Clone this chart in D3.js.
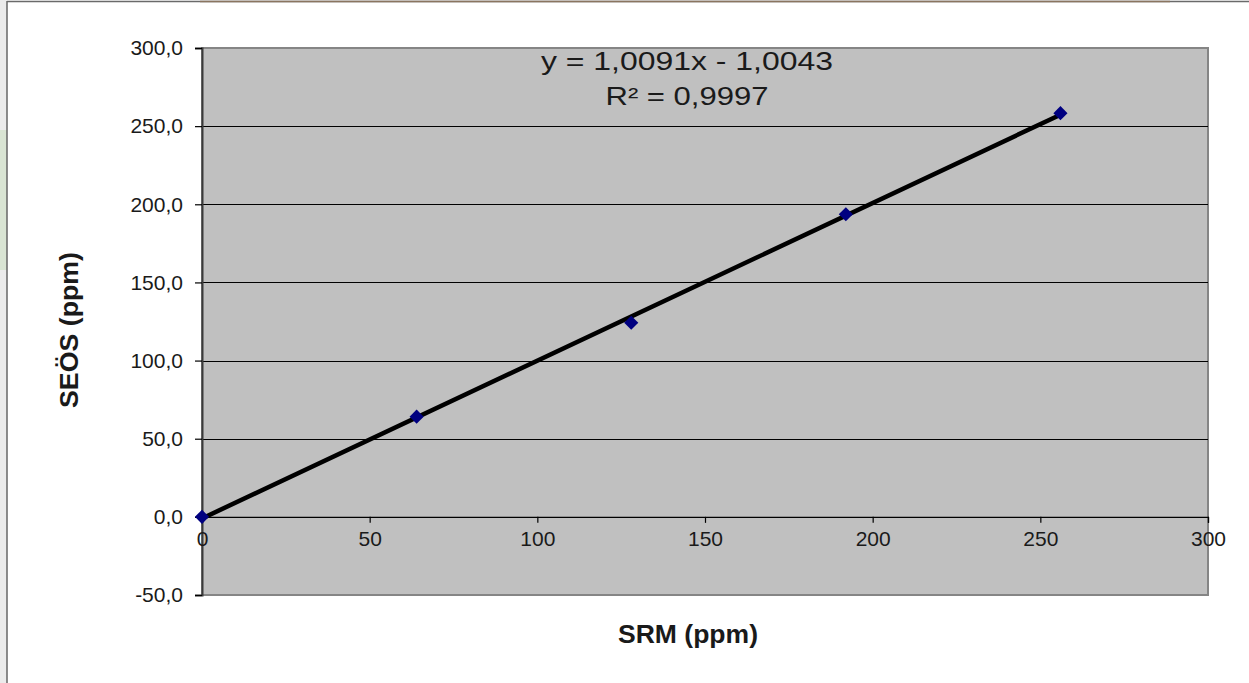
<!DOCTYPE html>
<html>
<head>
<meta charset="utf-8">
<script src="https://cdn.jsdelivr.net/npm/d3@7"></script>
<style>
  body { margin: 0; background: #fff; }
  text { font-family: "Liberation Sans", Arial, sans-serif; fill: #1a1a1a; }
</style>
</head>
<body>
<script>
    // data
    var srm = [0, 64, 128, 192, 256];
    var seos = [0, 64.1, 124.2, 193.6, 258.3];
    var xTicks = [0, 50, 100, 150, 200, 250, 300];
    var yTicks = [-50, 0, 50, 100, 150, 200, 250, 300];
    var trend = [1.0091, -1.0043];   // slope, intercept
    var trendLabel = ["y = 1,0091x - 1,0043", "R² = 0,9997"];

    var W = 1249, H = 683;
    // note: "top" is taken by window.top, so plot edges get a prefix
    var plotL = 202, plotR = 1208, plotT = 48, plotB = 595;

    var svg = d3.select("body").append("svg")
        .attr("width", W)
        .attr("height", H);

    // bits of the page behind the chart frame
    svg.append("rect").attr("x", 0).attr("y", 0).attr("width", 7).attr("height", H).attr("fill", "#ebebeb");
    svg.append("rect").attr("x", 0).attr("y", 130).attr("width", 7).attr("height", 140).attr("fill", "#d9e4d3");
    svg.append("line").attr("x1", 7).attr("x2", 7).attr("y1", 1).attr("y2", H).attr("stroke", "#666").attr("stroke-width", 1.5);
    svg.append("line").attr("x1", 7).attr("x2", W).attr("y1", 1.5).attr("y2", 1.5).attr("stroke", "#6a6a6a").attr("stroke-width", 1.5);
    svg.append("line").attr("x1", 200).attr("x2", 1170).attr("y1", 1.5).attr("y2", 1.5).attr("stroke", "#8a7560").attr("stroke-width", 1.5);

    var x = d3.scaleLinear().domain([0, 300]).range([plotL, plotR]);
    var y = d3.scaleLinear().domain([-50, 300]).range([plotB, plotT]);

    // plot area
    svg.append("rect")
        .attr("x", plotL).attr("y", plotT)
        .attr("width", plotR - plotL).attr("height", plotB - plotT)
        .attr("fill", "#c0c0c0")
        .attr("stroke", "#858585")
        .attr("stroke-width", 2);

    // gridlines
    svg.append("g").selectAll("line")
        .data(yTicks.filter(function(d){ return d > -50 && d < 300; }))
        .enter().append("line")
        .attr("x1", plotL).attr("x2", plotR)
        .attr("y1", function(d){ return Math.round(y(d)) + 0.5; })
        .attr("y2", function(d){ return Math.round(y(d)) + 0.5; })
        .attr("stroke", "#000")
        .attr("stroke-width", 1.2);

    // y axis
    var yAxis = svg.append("g")
        .attr("transform", "translate(" + plotL + ",0)")
        .call(d3.axisLeft(y).tickValues(yTicks).tickSizeOuter(0).tickSize(7).tickPadding(12)
            .tickFormat(function(d){ return d3.format(".1f")(d).replace(".", ",").replace("\u2212", "-"); }));
    yAxis.select(".domain").attr("stroke", "#3a3a3a").attr("stroke-width", 2);
    yAxis.selectAll(".tick line").attr("stroke", "#000").attr("stroke-width", 1.2);
    yAxis.selectAll("text").style("font-size", "21px").attr("fill", "#1a1a1a");

    // x axis sits on y = 0
    var xAxis = svg.append("g")
        .attr("transform", "translate(0," + y(0) + ")")
        .call(d3.axisBottom(x).tickValues(xTicks).tickSizeOuter(0).tickSize(6).tickPadding(8));
    xAxis.select(".domain").attr("stroke", "#000").attr("stroke-width", 1.2);
    xAxis.selectAll(".tick line").attr("stroke", "#000").attr("stroke-width", 1.2);
    xAxis.selectAll("text").style("font-size", "21px").attr("fill", "#1a1a1a");

    // trendline
    var xEnd = d3.max(srm);
    svg.append("line")
        .attr("x1", x(0)).attr("y1", y(trend[1]))
        .attr("x2", x(xEnd)).attr("y2", y(trend[0] * xEnd + trend[1]))
        .attr("stroke", "#000")
        .attr("stroke-width", 4.5)
        .attr("stroke-linecap", "round");

    // markers - square turned 45deg like excel's diamond
    svg.append("g").selectAll("path")
        .data(srm)
        .enter().append("path")
        .attr("transform", function(d, i){ return "translate(" + x(d) + "," + y(seos[i]) + ") rotate(45)"; })
        .attr("d", d3.symbol().type(d3.symbolSquare).size(100))
        .attr("fill", "#000080");

    // equation label
    svg.selectAll(".eq")
        .data(trendLabel)
        .enter().append("text")
        .attr("class", "eq")
        .attr("x", 687)
        .attr("y", function(d, i){ return 70 + i * 35; })
        .attr("text-anchor", "middle")
        .attr("textLength", function(d, i){ return i == 0 ? 292 : 163; })
        .attr("lengthAdjust", "spacingAndGlyphs")
        .style("font-size", "26px")
        .text(function(d){ return d; });

    // axis titles
    svg.append("text")
        .attr("x", 688).attr("y", 643)
        .attr("text-anchor", "middle")
        .style("font-size", "25px")
        .style("font-weight", "bold")
        .attr("textLength", 140)
        .attr("lengthAdjust", "spacingAndGlyphs")
        .text("SRM (ppm)");

    svg.append("text")
        .attr("transform", "translate(78,330) rotate(-90)")
        .attr("text-anchor", "middle")
        .style("font-size", "25px")
        .style("font-weight", "bold")
        .attr("textLength", 156)
        .attr("lengthAdjust", "spacingAndGlyphs")
        .text("SEÖS (ppm)");
</script>
</body>
</html>
